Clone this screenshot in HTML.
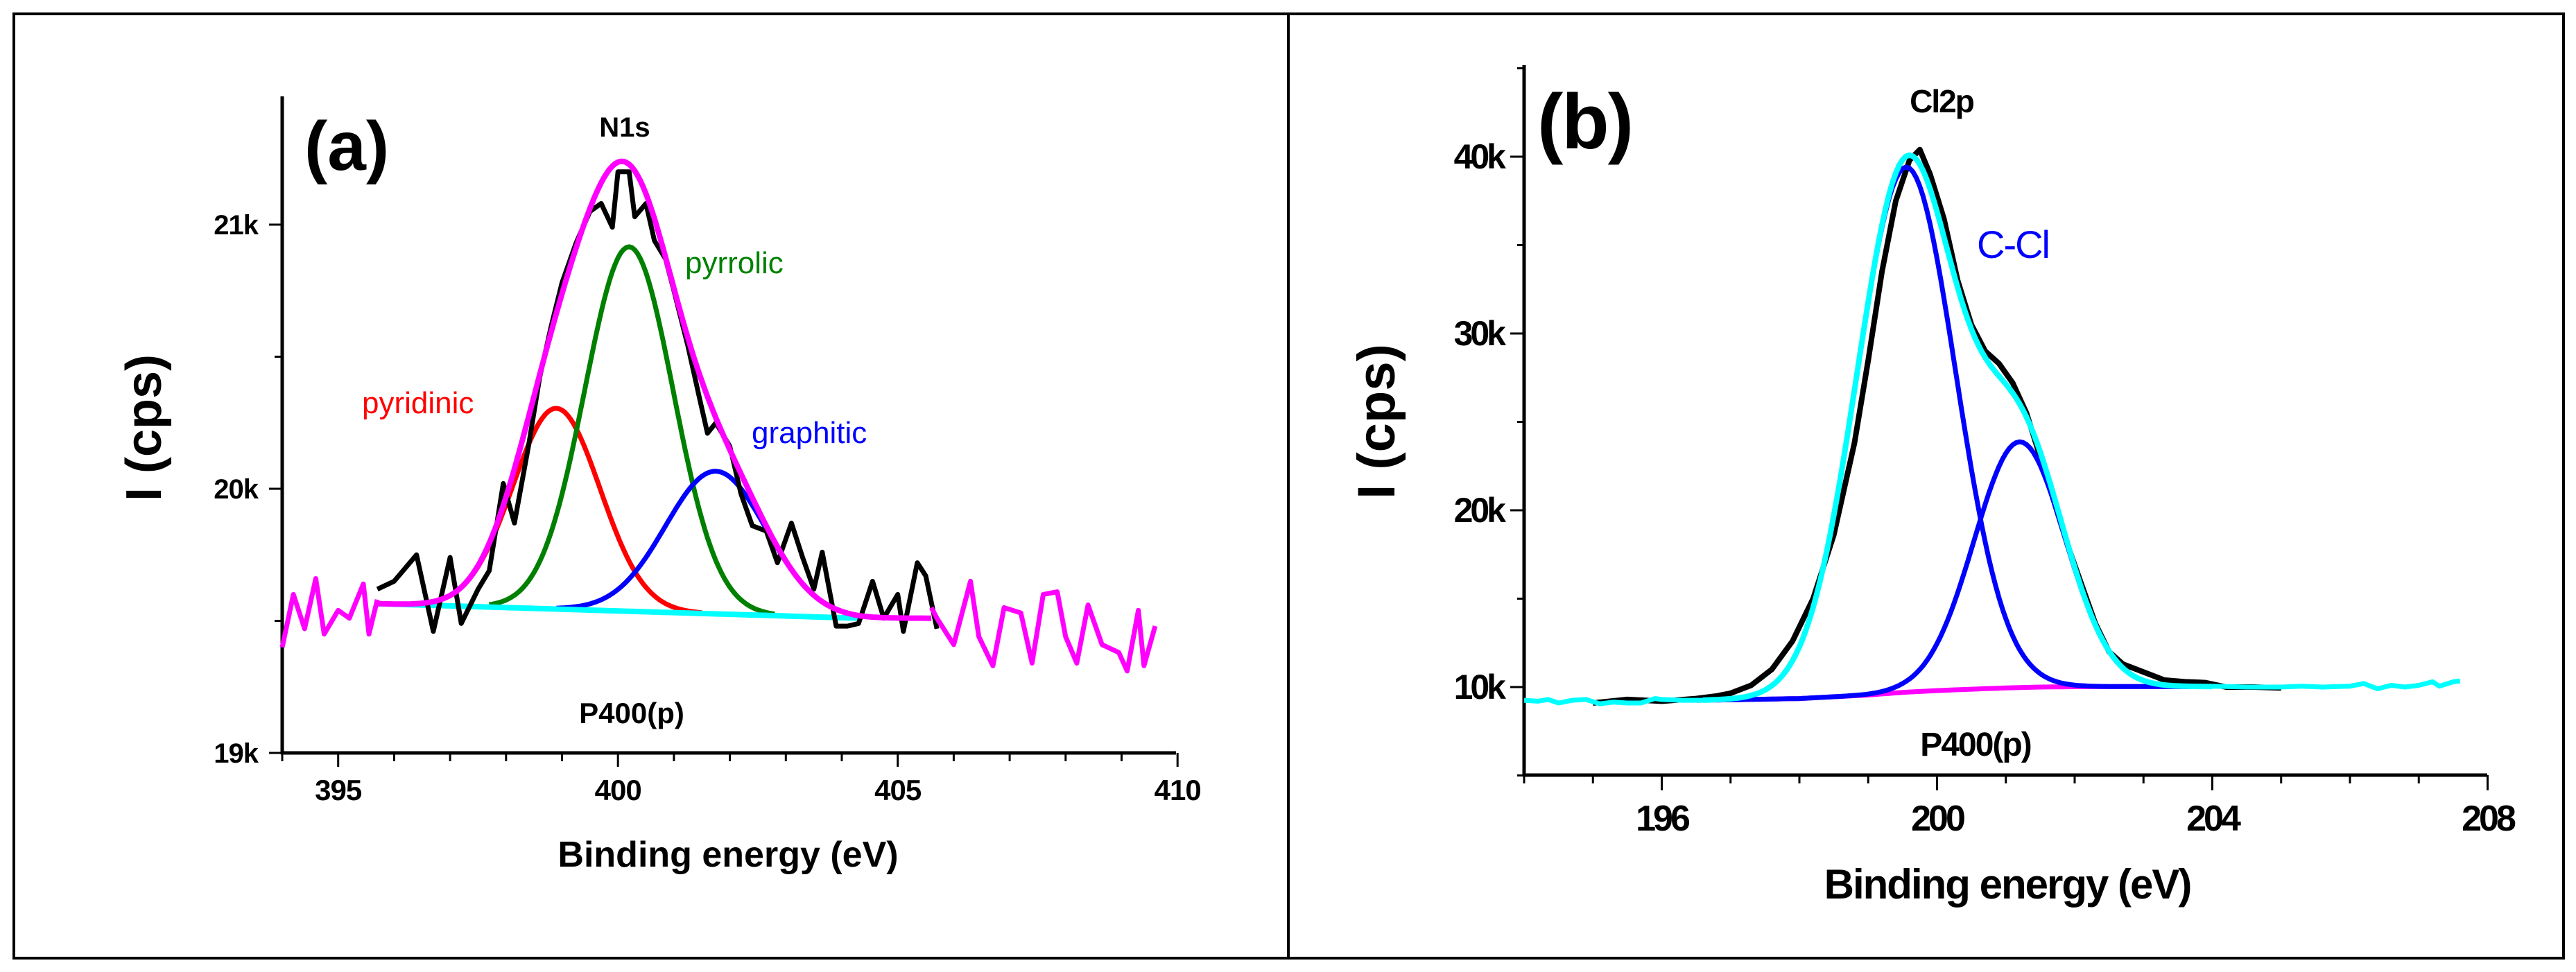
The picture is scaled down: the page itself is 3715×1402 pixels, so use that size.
<!DOCTYPE html>
<html><head><meta charset="utf-8"><style>
html,body{margin:0;padding:0;background:#fff;}
svg{display:block;font-family:"Liberation Sans",sans-serif;}
</style></head><body>
<svg id="fig" width="3715" height="1402" viewBox="0 0 3715 1402" xmlns="http://www.w3.org/2000/svg">
<rect x="20" y="20" width="3677" height="1362" fill="none" stroke="#000" stroke-width="4"/>
<line x1="1858" y1="20" x2="1858" y2="1382" stroke="#000" stroke-width="4"/>
<g id="pa"></g>
<g id="pb"></g>
</svg>
<script>
// ---- Panel (a) data: N1s ----
const aXTicks = [395, 400, 405, 410];
const aYTicks = [19, 20, 21];
const aYTickLabels = ["19k", "20k", "21k"];
const aPeakCenters = [398.9, 400.2, 401.75];
const aPeakAmps = [0.76, 1.38, 0.54];
const aPeakSigmas = [0.78, 0.79, 0.9];
const aPeakColors = ["#ff0000", "#008000", "#0000ff"];
const aBaseX = [395.7, 404.3];
const aBaseY = [19.565, 19.51];
const aRawX = [395.7,396.0,396.4,396.7,397.0,397.2,397.5,397.7,397.95,398.15,398.4,398.6,398.8,399.0,399.25,399.5,399.7,399.9,400.0,400.2,400.3,400.5,400.65,400.85,401.0,401.25,401.45,401.6,401.75,402.0,402.2,402.4,402.65,402.85,403.1,403.3,403.5,403.65,403.9,404.1,404.3,404.55,404.75,405.0,405.1,405.35,405.5,405.7];
const aRawY = [19.62,19.65,19.75,19.46,19.74,19.49,19.62,19.69,20.02,19.87,20.16,20.42,20.61,20.78,20.93,21.05,21.08,20.99,21.2,21.2,21.03,21.08,20.94,20.87,20.75,20.54,20.35,20.21,20.25,20.16,19.98,19.86,19.84,19.72,19.87,19.74,19.62,19.76,19.48,19.48,19.49,19.65,19.51,19.60,19.46,19.72,19.67,19.47];
const aNoiseLX = [394.0,394.2,394.4,394.6,394.75,395.0,395.2,395.45,395.55,395.7];
const aNoiseLY = [19.40,19.60,19.47,19.66,19.45,19.54,19.51,19.64,19.45,19.58];
const aNoiseRX = [405.6,405.7,406.0,406.3,406.45,406.7,406.9,407.2,407.4,407.6,407.85,408.0,408.2,408.4,408.65,408.95,409.1,409.3,409.4,409.6];
const aNoiseRY = [19.55,19.51,19.41,19.65,19.44,19.33,19.55,19.53,19.34,19.60,19.61,19.44,19.34,19.56,19.41,19.38,19.31,19.54,19.33,19.48];

// ---- Panel (b) data: Cl2p ----
const bXTicks = [196, 200, 204, 208];
const bYTicks = [10, 20, 30, 40];
const bYTickLabels = ["10k", "20k", "30k", "40k"];
const bPeakCenters = [199.55, 201.2];
const bPeakAmps = [29.7, 13.9];
const bPeakSigmas = [0.72, 0.66];
const bBaseX = [196.5,197,198,198.5,199,199.5,200,200.5,201,201.5,202,203,204];
const bBaseY = [9.25,9.28,9.35,9.45,9.55,9.7,9.8,9.88,9.95,10.0,10.02,10.03,10.03];
const bRawX = [195.0,195.5,196.0,196.5,196.8,197.0,197.3,197.6,197.9,198.2,198.5,198.8,199.0,199.2,199.4,199.6,199.75,199.9,200.1,200.3,200.5,200.7,200.9,201.1,201.3,201.5,201.7,201.9,202.1,202.3,202.5,202.7,202.9,203.1,203.3,203.6,203.9,204.2,204.6,205.0];
const bRawY = [9.1,9.3,9.2,9.35,9.5,9.65,10.1,11.0,12.6,15.0,18.6,23.8,28.5,33.5,37.5,39.8,40.4,39.0,36.5,33.0,30.5,29.0,28.3,27.2,25.5,23.0,20.5,18.0,15.8,13.6,12.0,11.3,11.0,10.7,10.4,10.3,10.25,10.0,10.0,9.95];
const bNoiseLX = [194.0,194.2,194.35,194.5,194.7,194.9,195.1,195.3,195.5,195.7,195.9,196.0,196.3,196.6];
const bNoiseLY = [9.25,9.2,9.3,9.1,9.25,9.3,9.05,9.15,9.1,9.1,9.35,9.3,9.25,9.25];
const bNoiseRX = [204.0,204.5,205.0,205.3,205.6,206.0,206.2,206.4,206.6,206.8,207.0,207.2,207.3,207.5,207.6];
const bNoiseRY = [10.05,10.0,10.0,10.05,10.0,10.05,10.2,9.9,10.1,10.0,10.1,10.3,10.05,10.3,10.35];

const NS = "http://www.w3.org/2000/svg";
function mk(parent, tag, attrs, text){
  const e = document.createElementNS(NS, tag);
  for (const k in attrs) e.setAttribute(k, attrs[k]);
  if (text !== undefined) e.textContent = text;
  parent.appendChild(e);
  return e;
}
function interp(xs, ys, x){
  if (x <= xs[0]) return ys[0];
  for (let i=1;i<xs.length;i++) if (x <= xs[i]) { const t=(x-xs[i-1])/(xs[i]-xs[i-1]); return ys[i-1]+t*(ys[i]-ys[i-1]); }
  return ys[ys.length-1];
}
function gauss(x,c,a,s){ return a*Math.exp(-(x-c)*(x-c)/(2*s*s)); }
function pathD(xs, ys, X, Y){ return xs.map((v,i)=>(i?"L":"M")+X(v).toFixed(1)+","+Y(ys[i]).toFixed(1)).join(" "); }
function sample(x0,x1,step){ const r=[]; for(let x=x0;x<=x1+1e-9;x+=step) r.push(x); return r; }

// ===== Panel (a) =====
(function(){
  const g = document.getElementById('pa');
  const X = v => 407 + (v-394)*80.7;
  const Y = v => 1086 - (v-19)*381;
  let e = mk(g,'line',{x1:407,y1:139,x2:407,y2:1088,stroke:'#000','stroke-width':5});
   
  e = mk(g,'line',{x1:405,y1:1086,x2:1696,y2:1086,stroke:'#000','stroke-width':5});
   
  for (let v=394; v<=410; v++){
    const major = aXTicks.includes(v);
    e = mk(g,'line',{x1:X(v),y1:1086,x2:X(v),y2:major?1106:1098,stroke:'#000','stroke-width':3});
     
  }
  aXTicks.forEach(v=>{
    e = mk(g,'text',{x:X(v),y:1154,'font-size':42,'font-weight':'bold','text-anchor':'middle','letter-spacing':-1},String(v));
     
  });
  [19,19.5,20,20.5,21].forEach(v=>{
    const major = aYTicks.includes(v);
    e = mk(g,'line',{x1:major?388:396,y1:Y(v),x2:407,y2:Y(v),stroke:'#000','stroke-width':3});
     
  });
  aYTicks.forEach((v,i)=>{
    e = mk(g,'text',{x:372,y:Y(v)+14,'font-size':40,'font-weight':'bold','text-anchor':'end','letter-spacing':-1},aYTickLabels[i]);
     
  });
  const bx = sample(395.7,404.3,0.1);
  const base = x => interp(aBaseX,aBaseY,x);
  const names=['peak-pyridinic','peak-pyrrolic','peak-graphitic'];
  const ranges=[[396.5,401.5],[397.7,402.8],[398.9,404.3]];
  aPeakCenters.forEach((c,i)=>{
    const xs = sample(ranges[i][0],ranges[i][1],0.05);
    e = mk(g,'path',{d:pathD(xs, xs.map(x=>base(x)+gauss(x,c,aPeakAmps[i],aPeakSigmas[i])),X,Y),fill:'none',stroke:aPeakColors[i],'stroke-width':7,'stroke-linejoin':'round'});
     
  });
  e = mk(g,'path',{d:pathD(bx,bx.map(base),X,Y),fill:'none',stroke:'#00ffff','stroke-width':8});
   
  e = mk(g,'path',{d:pathD(aRawX,aRawY,X,Y),fill:'none',stroke:'#000','stroke-width':7,'stroke-linejoin':'round'});
   
  const fx = sample(395.7,405.6,0.05);
  const fy = fx.map(x=>{ let s=base(x); aPeakCenters.forEach((c,i)=>{ s+=gauss(x,c,aPeakAmps[i],aPeakSigmas[i]); }); return s; });
  e = mk(g,'path',{d:pathD(fx,fy,X,Y),fill:'none',stroke:'#ff00ff','stroke-width':8,'stroke-linejoin':'round'});
   
  e = mk(g,'path',{d:pathD(aNoiseLX,aNoiseLY,X,Y),fill:'none',stroke:'#ff00ff','stroke-width':7,'stroke-linejoin':'round'});
   
  e = mk(g,'path',{d:pathD(aNoiseRX,aNoiseRY,X,Y),fill:'none',stroke:'#ff00ff','stroke-width':7,'stroke-linejoin':'round'});
   
  const labs=[
    ['(a)',439,245,100,'bold','#000','start','panel-label'],
    ['N1s',901,197,40,'bold','#000','middle','spectrum-title'],
    ['pyrrolic',988,394,44,'normal','#008000','start','label-pyrrolic'],
    ['pyridinic',522,596,44,'normal','#ff0000','start','label-pyridinic'],
    ['graphitic',1084,639,44,'normal','#0000ff','start','label-graphitic'],
    ['P400(p)',911,1043,42,'bold','#000','middle','sample-label'],
    ['Binding energy (eV)',1050,1250,52,'bold','#000','middle','x-axis-title']];
  labs.forEach(l=>{
    e = mk(g,'text',{x:l[1],y:l[2],'font-size':l[3],'font-weight':l[4],fill:l[5],'text-anchor':l[6]},l[0]);
     
  });
  e = mk(g,'text',{x:0,y:0,'font-size':72,'font-weight':'bold','text-anchor':'middle',transform:'translate(232,617) rotate(-90)'},'I (cps)');
   
})();

// ===== Panel (b) =====
(function(){
  const g = document.getElementById('pb');
  const X = v => 2198 + (v-194)*99.25;
  const Y = v => 991 - (v-10)*25.5;
  let e = mk(g,'line',{x1:2198,y1:94,x2:2198,y2:1120,stroke:'#000','stroke-width':5});
   
  e = mk(g,'line',{x1:2196,y1:1118,x2:3587,y2:1118,stroke:'#000','stroke-width':5});
   
  for (let v=194; v<=208; v++){
    const major = bXTicks.includes(v);
    e = mk(g,'line',{x1:X(v),y1:1118,x2:X(v),y2:major?1140:1130,stroke:'#000','stroke-width':3});
     
  }
  bXTicks.forEach(v=>{
    e = mk(g,'text',{x:X(v),y:1198,'font-size':52,'font-weight':'bold','text-anchor':'middle','letter-spacing':-4},String(v));
     
  });
  [5,10,15,20,25,30,35,40,45].forEach(v=>{
    const major = bYTicks.includes(v);
    e = mk(g,'line',{x1:major?2178:2188,y1:Y(v),x2:2198,y2:Y(v),stroke:'#000','stroke-width':3});
     
  });
  bYTicks.forEach((v,i)=>{
    e = mk(g,'text',{x:2168,y:Y(v)+17,'font-size':50,'font-weight':'bold','text-anchor':'end','letter-spacing':-4},bYTickLabels[i]);
     
  });
  const base = x => interp(bBaseX,bBaseY,x);
  e = mk(g,'path',{d:pathD(bRawX,bRawY,X,Y),fill:'none',stroke:'#000','stroke-width':8,'stroke-linejoin':'round'});
   
  const bx = sample(196.5,204,0.1);
  e = mk(g,'path',{d:pathD(bx,bx.map(base),X,Y),fill:'none',stroke:'#ff00ff','stroke-width':7});
   
  const pn=['peak-cl2p3-2','peak-cl2p1-2'];
  bPeakCenters.forEach((c,i)=>{
    const xs = sample(196.8,204,0.05);
    e = mk(g,'path',{d:pathD(xs,xs.map(x=>base(x)+gauss(x,c,bPeakAmps[i],bPeakSigmas[i])),X,Y),fill:'none',stroke:'#0000ff','stroke-width':7,'stroke-linejoin':'round'});
     
  });
  const fx = sample(196.6,204,0.05);
  const fy = fx.map(x=>{ let s=base(x); bPeakCenters.forEach((c,i)=>{ s+=gauss(x,c,bPeakAmps[i],bPeakSigmas[i]); }); return s; });
  e = mk(g,'path',{d:pathD(fx,fy,X,Y),fill:'none',stroke:'#00ffff','stroke-width':8,'stroke-linejoin':'round'});
   
  e = mk(g,'path',{d:pathD(bNoiseLX,bNoiseLY,X,Y),fill:'none',stroke:'#00ffff','stroke-width':7,'stroke-linejoin':'round'});
   
  e = mk(g,'path',{d:pathD(bNoiseRX,bNoiseRY,X,Y),fill:'none',stroke:'#00ffff','stroke-width':7,'stroke-linejoin':'round'});
   
  const labs=[
    ['(b)',2217,214,112,'bold','#000','start','panel-label'],
    ['Cl2p',2800,162,46,'bold','#000','middle','spectrum-title'],
    ['C-Cl',2851,372,56,'normal','#0000ff','start','label-c-cl'],
    ['P400(p)',2849,1090,48,'bold','#000','middle','sample-label'],
    ['Binding energy (eV)',2895,1296,60,'bold','#000','middle','x-axis-title']];
  labs.forEach(l=>{
    e = mk(g,'text',{x:l[1],y:l[2],'font-size':l[3],'font-weight':l[4],fill:l[5],'text-anchor':l[6],'letter-spacing':-2},l[0]);
     
  });
  e = mk(g,'text',{x:0,y:0,'font-size':76,'font-weight':'bold','text-anchor':'middle',transform:'translate(2011,608) rotate(-90)'},'I (cps)');
   
})();
</script>
</body></html>
